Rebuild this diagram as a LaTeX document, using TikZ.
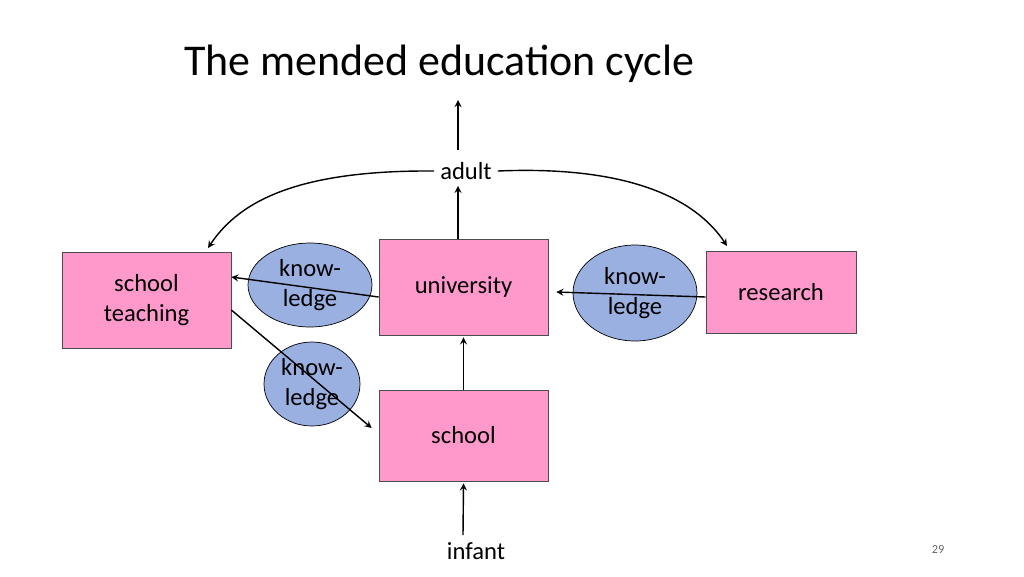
\documentclass[tikz,border=0pt]{standalone}
\usepackage{fontspec}
\setmainfont{Carlito}
\usetikzlibrary{shapes.geometric}
\definecolor{pinkbox}{RGB}{255,153,204}
\definecolor{bluebub}{RGB}{153,176,225}
\tikzset{
  box/.style={rectangle, draw=black!70, fill=pinkbox, inner sep=0pt, font=\fontsize{14}{17}\selectfont, align=center},
  bubble/.style={ellipse, draw=black, fill=bluebub, inner sep=0pt, font=\fontsize{14}{17}\selectfont, align=center},
  arrow/.style={thick, ->, >=stealth}
}
\begin{document}
\begin{tikzpicture}[x=0.02cm, y=-0.02cm]
\useasboundingbox (0,0) rectangle (1024,576);
%nodes
\node[anchor=west, font=\fontsize{25}{30}\selectfont] (title) at (178,64) {The mended education cycle};
\node (adult) [font=\fontsize{14}{17}\selectfont] at (466,171) {adult};
\coordinate (top) at (458,100);
\node (k1) [bubble, minimum width=124\pgflinewidth*0+2.48cm, minimum height=1.68cm] at (310,285) {know-\\ledge};
\node (k2) [bubble, minimum width=2.48cm, minimum height=1.92cm] at (635,293) {know-\\ledge};
\node (k3) [bubble, minimum width=1.92cm, minimum height=1.68cm] at (312,384) {know-\\ledge};
\node (teach) [box, minimum width=3.38cm, minimum height=1.92cm] at (146.5,300) {school\\teaching};
\node (uni) [box, minimum width=3.38cm, minimum height=1.92cm] at (463.5,287) {university};
\node (res) [box, minimum width=3cm, minimum height=1.64cm] at (781,292) {research};
\node (school) [box, minimum width=3.38cm, minimum height=1.82cm] at (463.5,435.5) {school};
\node (infant) [font=\fontsize{14}{17}\selectfont] at (476,551) {infant};
\coordinate (bottom) at (463,535);
\node (page) [font=\fontsize{7}{8}\selectfont, text=black!60] at (938,549) {29};

%lines
\draw [arrow] (adult.north -| top) ++(0,-6) -- (top);
\draw [arrow] (uni.north -| top) -- (adult.south -| top);
\draw [arrow] (adult.west) .. controls (300,170) and (240,200) .. (208,248);
\draw [arrow] (adult.east) .. controls (640,165) and (700,205) .. (727,246);
\draw [arrow] ([yshift=-0.2cm]uni.west) -- ([yshift=0.46cm]teach.east);
\draw [arrow] ([yshift=-0.1cm]res.west) -- ([yshift=-0.1cm, xshift=0.16cm]uni.east);
\draw [arrow] ([yshift=-0.2cm]teach.east) -- ([yshift=0.15cm, xshift=-0.14cm]school.west);
\draw [arrow] (school.north) -- ([yshift=-0.04cm]uni.south);
\draw [arrow] (bottom) -- ([yshift=-0.04cm]school.south);
\end{tikzpicture}
\end{document}
